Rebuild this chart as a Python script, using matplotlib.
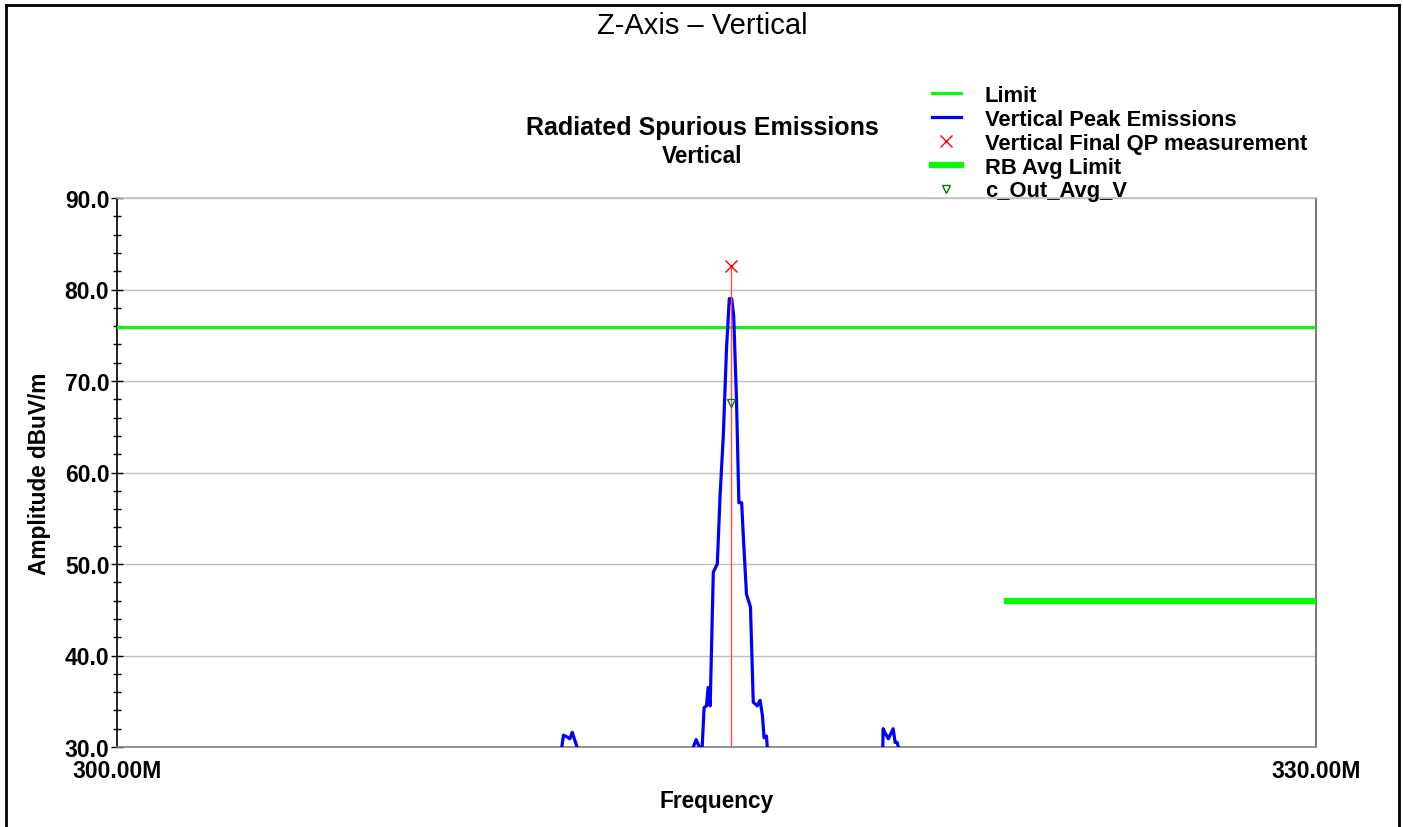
import matplotlib
matplotlib.use("Agg")
import matplotlib.pyplot as plt
from matplotlib.lines import Line2D
import numpy as np

plt.rcParams['font.family'] = ['Liberation Sans', 'DejaVu Sans']

# peak trace (MHz, dBuV/m); values below 30 are clipped by the axes
freq = [300.0, 311.10, 311.13, 311.17, 311.26, 311.33, 311.39, 311.51, 311.55,
        314.38, 314.42, 314.49, 314.57, 314.63, 314.69, 314.75, 314.79, 314.84,
        314.85, 314.92, 315.02, 315.09, 315.17, 315.25, 315.32, 315.38, 315.43,
        315.50, 315.56, 315.63, 315.67, 315.75, 315.85, 315.92, 316.02, 316.09,
        316.15, 316.19, 316.25, 316.27, 316.30,
        319.13, 319.16, 319.17, 319.21, 319.30, 319.42, 319.47, 319.52, 319.55, 319.58, 330.0]
amp = [25.0, 28.0, 30.0, 31.3, 31.1, 30.9, 31.6, 30.0, 28.0,
       28.0, 30.0, 30.8, 30.0, 29.0, 34.3, 34.5, 36.5, 34.5,
       36.0, 49.1, 50.0, 57.5, 64.0, 73.5, 79.0, 79.0, 77.1,
       68.0, 56.7, 56.7, 53.1, 46.7, 45.3, 34.9, 34.5, 35.1,
       33.4, 31.0, 31.2, 30.0, 28.0,
       28.0, 30.0, 32.0, 31.6, 30.9, 32.0, 30.5, 30.5, 30.0, 28.0, 25.0]

limit_f = [300.0, 330.0]
limit_v = [75.9, 75.9]
rb_f = [322.27, 330.0]
rb_v = [46.0, 46.0]

qp_f = [315.36]
qp_v = [82.6]
avg_f = [315.36]
avg_v = [67.6]

W, H = 1403, 828
fig = plt.figure(figsize=(W / 100, H / 100), dpi=100)
ax = fig.add_axes([117 / W, 80 / H, 1199 / W, 549 / H])

ax.plot(limit_f, limit_v, color='#00ff00', lw=2.2, label='Limit', zorder=3)
ax.plot(freq, amp, color='#0000ff', lw=2.3, label='Vertical Peak Emissions', zorder=4)
ax.vlines(qp_f, 30, qp_v, color='#ff5050', lw=1.0, zorder=5)
ax.plot(qp_f, qp_v, 'x', color='red', ms=9, mew=1.0, ls='none',
        label='Vertical Final QP measurement', zorder=6)
ax.plot(rb_f, rb_v, color='#00ff00', lw=4.5, label='RB Avg Limit', zorder=3)
ax.plot(avg_f, avg_v, 'v', color='green', mfc='none', ms=6, mew=1.0, ls='none',
        label='c_Out_Avg_V', zorder=6)

ax.set_xlim(300, 330)
ax.set_ylim(30, 90)
ax.set_xticks([300, 330])
ax.set_xticklabels(['300.00M', '330.00M'])
ax.set_yticks(np.arange(30, 91, 10))
ax.set_yticklabels(['%.1f' % v for v in np.arange(30, 91, 10)])
ax.set_yticks(np.arange(30, 91, 2), minor=True)
ax.tick_params(axis='y', which='major', direction='inout', length=9, width=1,
               labelsize=16.5, pad=1)
ax.tick_params(axis='y', which='minor', direction='inout', length=6, width=1)
ax.tick_params(axis='x', which='major', length=0, labelsize=16.5, pad=9)
for lab in ax.get_xticklabels() + ax.get_yticklabels():
    lab.set_fontweight('bold')

ax.grid(axis='y', color='#c0c0c0', lw=1)
ax.set_axisbelow(True)
ax.spines['top'].set_color('#c0c0c0')
ax.spines['bottom'].set_color('#808080')
ax.spines['right'].set_color('#606060')
ax.spines['left'].set_color('black')
for s in ax.spines.values():
    s.set_linewidth(1.2)

ax.set_xlabel('Frequency', fontsize=16.3, fontweight='bold', labelpad=5)
ax.set_ylabel('Amplitude dBuV/m', fontsize=16.3, fontweight='bold', labelpad=10)

fig.text(702 / W, 1 - 26 / H, 'Z-Axis \u2013 Vertical', ha='center', va='center', fontsize=21)
fig.text(702 / W, 1 - 128 / H, 'Radiated Spurious Emissions', ha='center', va='center',
         fontsize=18, fontweight='bold')
fig.text(702 / W, 1 - 157 / H, 'Vertical', ha='center', va='center',
         fontsize=16.3, fontweight='bold')

leg = fig.legend(loc='upper left', bbox_to_anchor=(921 / W, 1 - 75 / H), frameon=False,
                 prop={'size': 15.8, 'weight': 'bold'}, labelspacing=0.13,
                 handlelength=1.3, handletextpad=1.1, borderpad=0)

# outer frame
fig.add_artist(Line2D([6 / W, 6 / W], [0, 1 - 6 / H], color='black', lw=2, transform=fig.transFigure))
fig.add_artist(Line2D([6 / W, 1399 / W], [1 - 6 / H, 1 - 6 / H], color='black', lw=2, transform=fig.transFigure))
fig.add_artist(Line2D([1399 / W, 1399 / W], [0, 1 - 6 / H], color='black', lw=2, transform=fig.transFigure))

fig.savefig('out.png', dpi=100)
